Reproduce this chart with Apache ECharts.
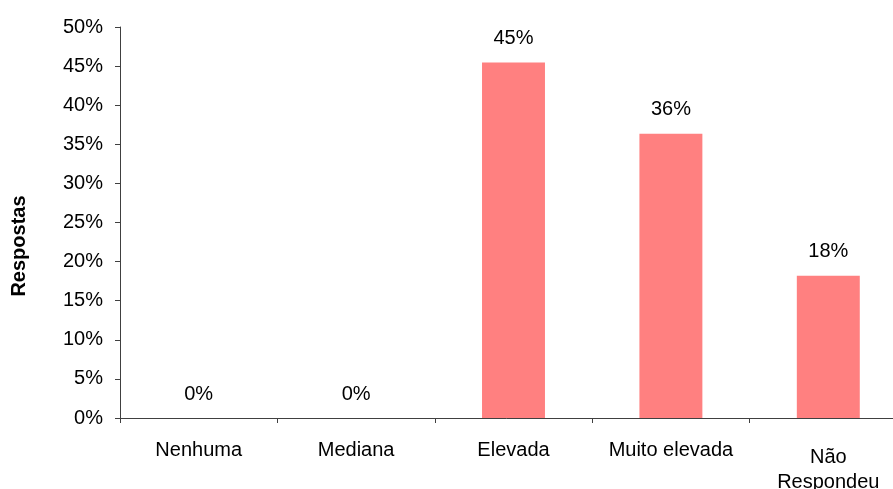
<!DOCTYPE html>
<html>
<head>
<meta charset="utf-8">
<script src="https://cdn.jsdelivr.net/npm/echarts@6/dist/echarts.min.js"></script>
<style>
html,body{margin:0;padding:0;background:#fff;}
#chart{width:893px;height:489px;}
</style>
</head>
<body>
<div id="chart"></div>
<script>
const categories = ['Nenhuma', 'Mediana', 'Elevada', 'Muito elevada', 'Não\nRespondeu'];
const values = [0, 0, 45.45, 36.36, 18.18];
const yTicks = { min: 0, max: 50, interval: 5 };
const yTitle = 'Respostas';

const chart = echarts.init(document.getElementById('chart'));
const font = 'Liberation Sans, Arial, sans-serif';
chart.setOption({
  animation: false,
  backgroundColor: '#fff',
  grid: { left: 120, right: -14, top: 27, bottom: 71, containLabel: false, outerBoundsMode: 'none' },
  xAxis: {
    type: 'category',
    data: categories,
    axisLine: { lineStyle: { color: '#404040', width: 1 } },
    axisTick: { show: true, length: 5, alignWithLabel: false, lineStyle: { color: '#404040' } },
    axisLabel: {
      color: '#000', fontFamily: font, fontSize: 20, margin: 22, interval: 0,
      formatter: v => v.indexOf('\n') >= 0
        ? v.split('\n').map((s, i) => '{' + (i === 0 ? 'f' : 's') + '|' + s + '}').join('\n')
        : v,
      rich: {
        f: { fontFamily: font, fontSize: 20, color: '#000', lineHeight: 28, padding: [6, 0, 0, 0] },
        s: { fontFamily: font, fontSize: 20, color: '#000', lineHeight: 28 }
      }
    },
    splitLine: { show: false }
  },
  yAxis: {
    type: 'value',
    min: yTicks.min, max: yTicks.max, interval: yTicks.interval,
    axisLine: { show: true, lineStyle: { color: '#404040', width: 1 } },
    axisTick: { show: true, length: 5, lineStyle: { color: '#404040' } },
    axisLabel: { color: '#000', fontFamily: font, fontSize: 20, margin: 17, formatter: '{value}%' },
    splitLine: { show: false }
  },
  graphic: [{
    type: 'text',
    x: 19, y: 246,
    rotation: Math.PI / 2,
    style: {
      text: yTitle,
      fill: '#000',
      font: 'bold 20px ' + font,
      align: 'center',
      verticalAlign: 'middle'
    }
  }],
  series: [{
    type: 'bar',
    data: values,
    barWidth: '40%',
    itemStyle: { color: '#FF8080' },
    label: {
      show: true,
      position: 'top',
      distance: 14,
      color: '#000',
      fontFamily: font,
      fontSize: 20,
      formatter: p => Math.round(p.value) + '%'
    }
  }]
});
</script>
</body>
</html>
